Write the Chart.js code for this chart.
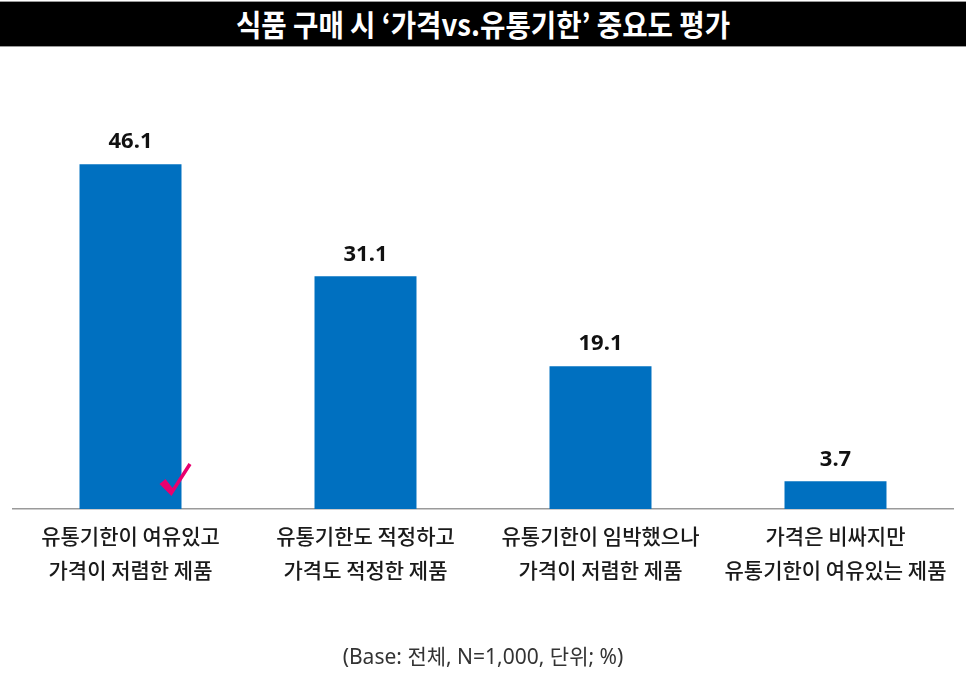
<!DOCTYPE html>
<html>
<head>
<meta charset="utf-8">
<script src="https://cdn.jsdelivr.net/npm/chart.js@4.4.1/dist/chart.umd.min.js"></script>
<style>
    body { margin: 0; background: #fff; width: 966px; height: 679px; overflow: hidden; position: relative; }
    #title { position: absolute; left: 0; top: 1px; width: 966px; height: 44px; background: #000;
             border-top: 1px solid #999; border-bottom: 1px solid #999; }
    #title span { position: absolute; left: 50%; top: 50%; transform: translate(-50%, -52%) scaleX(0.92);
             color: #fff; font: bold 30px "Noto Sans CJK KR"; white-space: nowrap; }
    #wrap { position: absolute; left: 0; top: 48px; width: 966px; height: 631px; }
    #note { position: absolute; left: 0; width: 966px; top: 640px; text-align: center;
            font: 21px "Noto Sans", "Noto Sans CJK KR"; color: #333; }
</style>
</head>
<body>
<div id="title"><span>식품 구매 시 ‘가격vs.유통기한’ 중요도 평가</span></div>
<div id="wrap"><canvas id="chart"></canvas></div>
<div id="note">(Base: 전체, N=1,000, 단위; %)</div>
<script>
const categories = [
    ["유통기한이 여유있고", "가격이 저렴한 제품"],
    ["유통기한도 적정하고", "가격도 적정한 제품"],
    ["유통기한이 임박했으나", "가격이 저렴한 제품"],
    ["가격은 비싸지만", "유통기한이 여유있는 제품"]
]
const values = [46.1, 31.1, 19.1, 3.7]
const checked_index = 0

// value labels above the bars + the pink check mark on the chosen bar
const barExtras = {
    id: 'barExtras',
    afterDatasetsDraw(chart) {
        const ctx = chart.ctx
        const bars = chart.getDatasetMeta(0).data
        ctx.save()
        ctx.fillStyle = '#111'
        ctx.font = 'bold 22px "Noto Sans"'
        ctx.textAlign = 'center'
        ctx.textBaseline = 'bottom'
        bars.forEach((bar, i) => {
            ctx.fillText(values[i].toFixed(1), bar.x, bar.y - 11)
        })
        const b = bars[checked_index]
        const r = b.x + b.width / 2
        const base = b.base
        ctx.fillStyle = '#E8006E'
        ctx.beginPath()
        ctx.moveTo(r - 22, base - 25)
        ctx.lineTo(r - 16, base - 30)
        ctx.lineTo(r - 9, base - 21)
        ctx.lineTo(r + 7, base - 46)
        ctx.lineTo(r + 10, base - 44)
        ctx.lineTo(r - 10, base - 13)
        ctx.closePath()
        ctx.fill()
        ctx.restore()
    }
}

new Chart(document.getElementById('chart'), {
    type: 'bar',
    data: {
        labels: categories,
        datasets: [{
            data: values,
            backgroundColor: '#0070C0',
            barPercentage: 0.434,
            categoryPercentage: 1.0
        }]
    },
    options: {
        responsive: true,
        maintainAspectRatio: false,
        animation: false,
        layout: { padding: { left: 13, right: 13, top: 87, bottom: 0 } },
        plugins: { legend: { display: false }, tooltip: { enabled: false } },
        scales: {
            x: {
                grid: { display: false, drawTicks: false },
                border: { display: true, color: '#9a9a9a', width: 1.5 },
                ticks: {
                    color: '#1a1a1a',
                    font: { size: 21, family: '"Noto Sans CJK KR"', weight: 500, lineHeight: 1.62 },
                    padding: 10,
                    maxRotation: 0,
                    autoSkip: false
                },
                afterFit(scale) { scale.height = 170 }
            },
            y: {
                display: false,
                min: 0,
                max: 50
            }
        }
    },
    plugins: [barExtras]
})
</script>
</body>
</html>
